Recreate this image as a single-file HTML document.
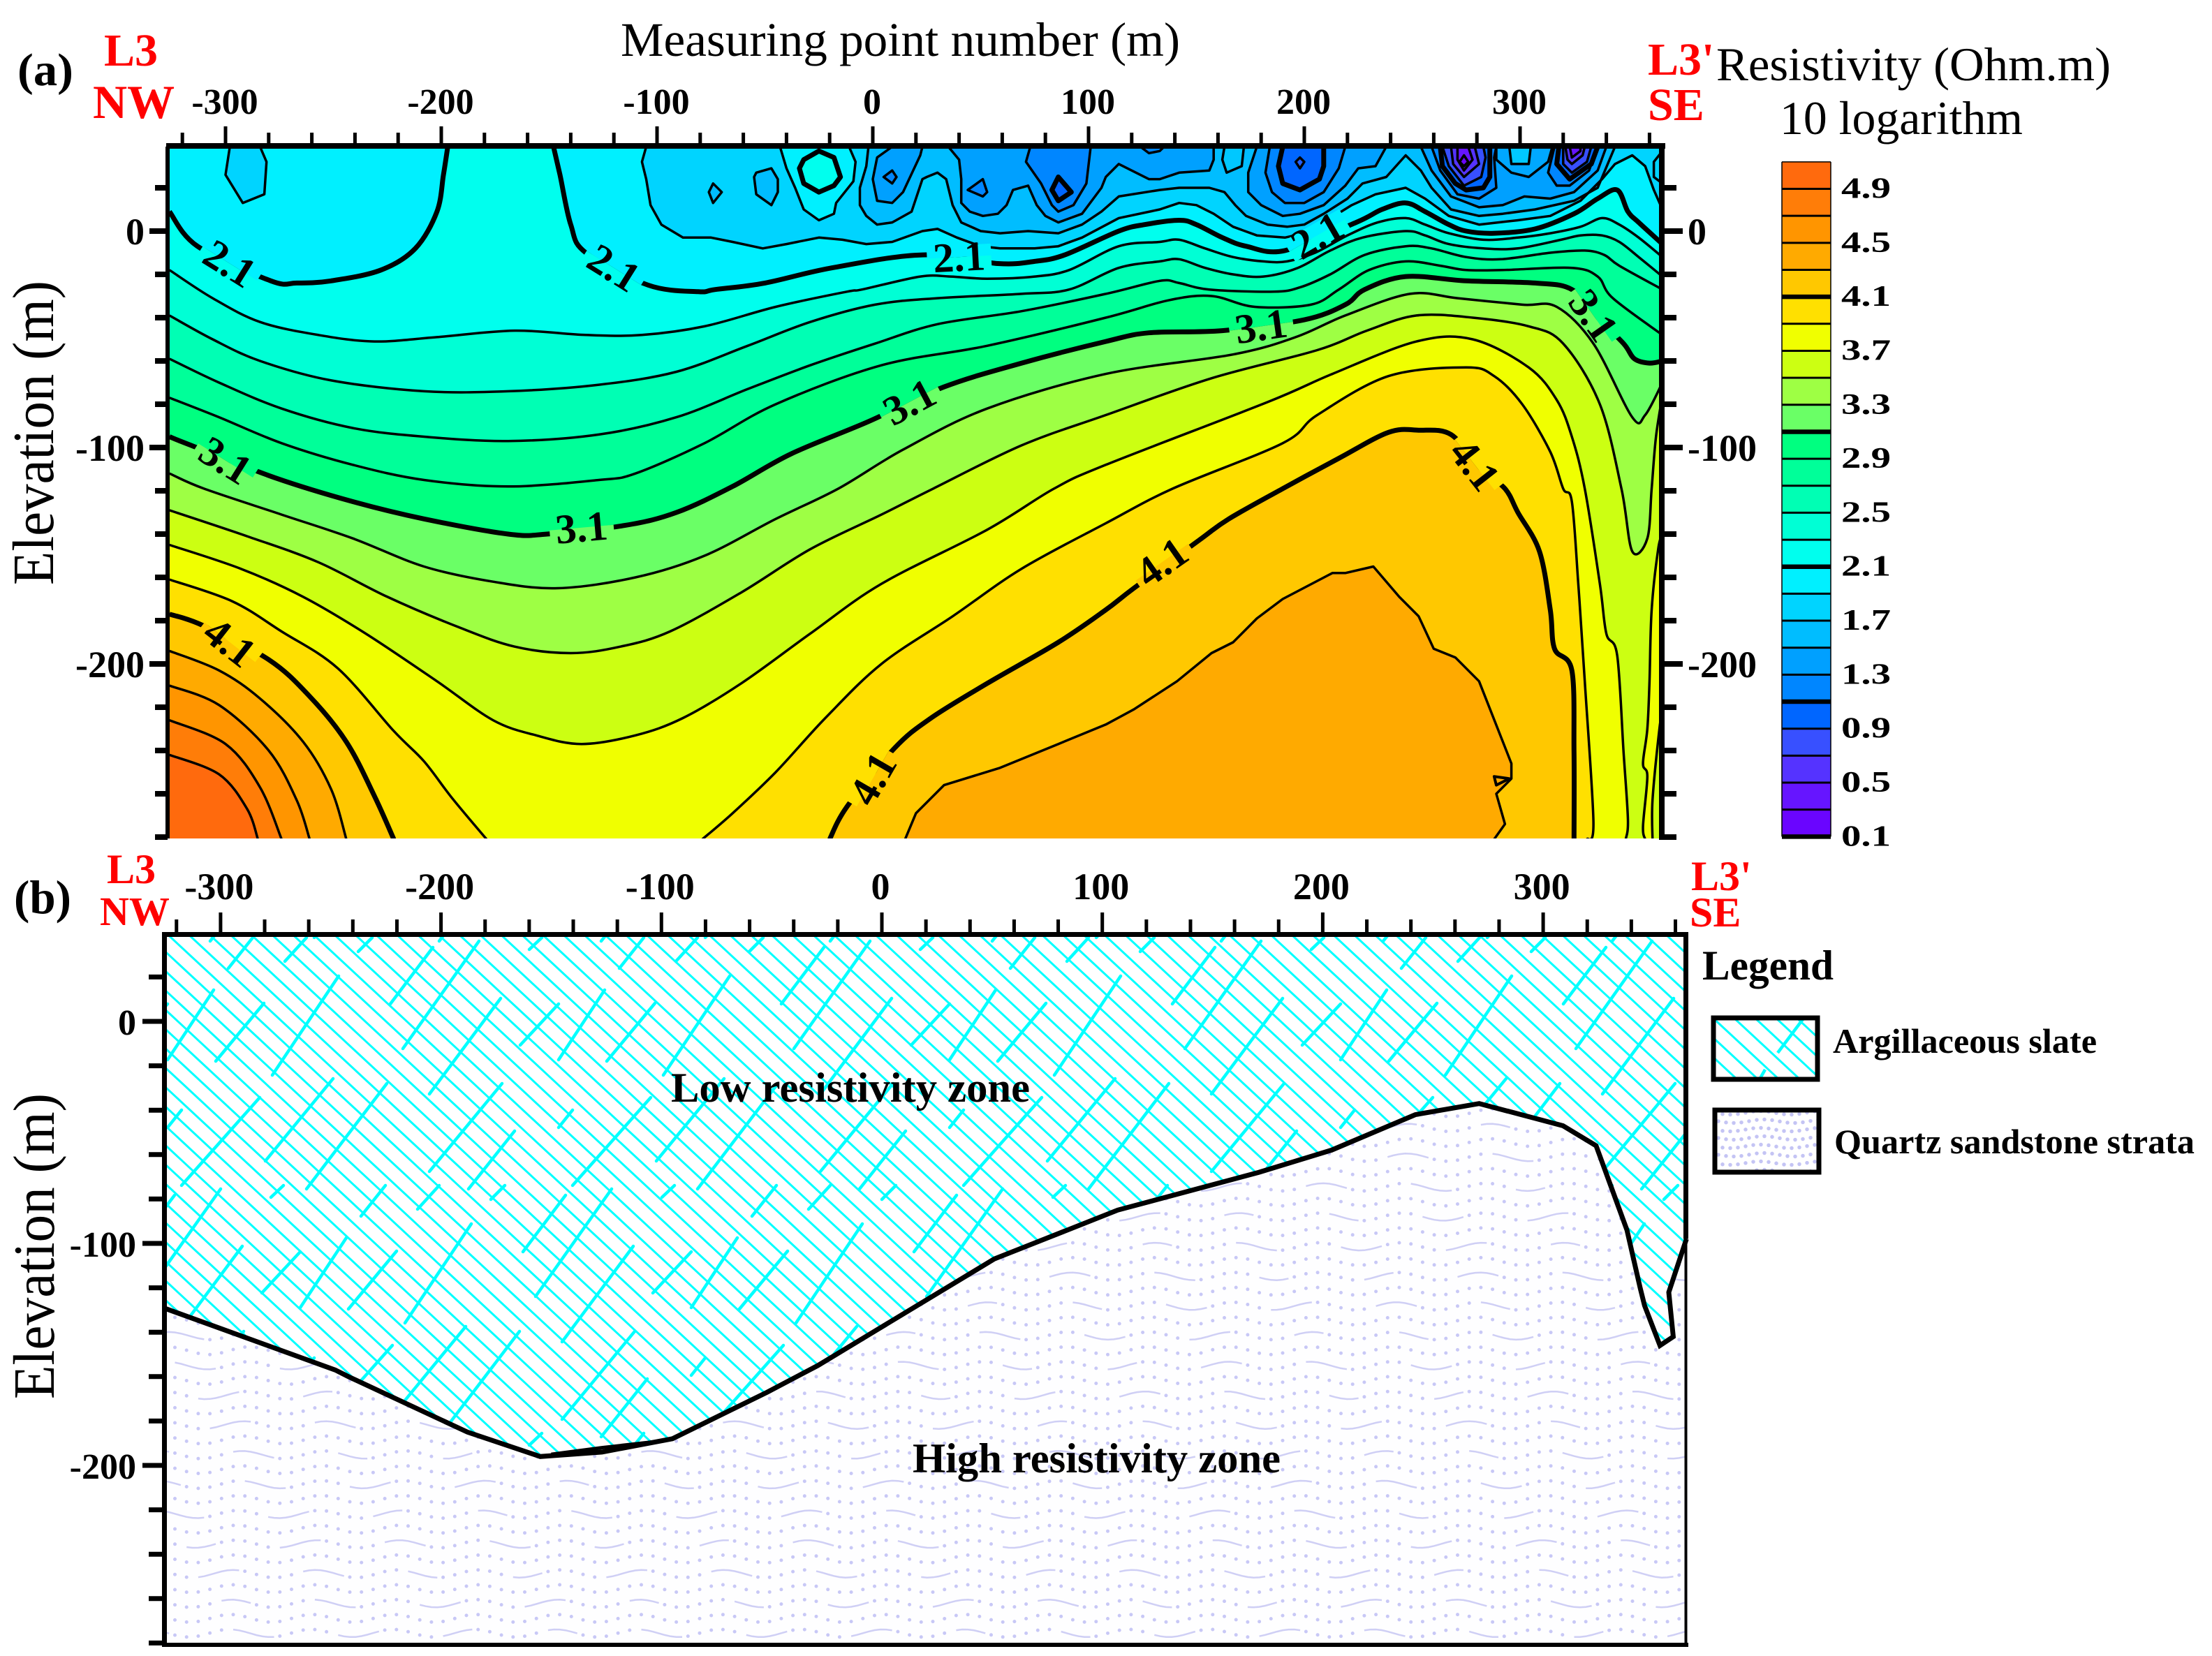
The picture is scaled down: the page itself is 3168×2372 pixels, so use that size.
<!DOCTYPE html>
<html lang="en">
<head>
<meta charset="utf-8">
<title>Resistivity section and geological interpretation</title>
<style>
html,body{margin:0;padding:0;background:#fff;overflow:hidden;}
svg{display:block;}
text{font-family:"Liberation Serif",serif;}
.b{font-weight:bold;}
.red{fill:#ff0000;font-weight:bold;}
</style>
</head>
<body>
<svg id="fig" xmlns="http://www.w3.org/2000/svg" width="3168" height="2372" viewBox="0 0 3168 2372">
  <defs>
    <clipPath id="clipA"><rect x="242" y="210" width="2139" height="991"/></clipPath>
    <clipPath id="clipUpper"><path id="clipUpperPath" d=""/></clipPath>
    <clipPath id="clipLower"><path id="clipLowerPath" d=""/></clipPath>
    <clipPath id="clipSw1"><rect x="2455" y="1459" width="147" height="86"/></clipPath>
    <clipPath id="clipSw2"><rect x="2457" y="1591" width="147" height="87"/></clipPath>
  </defs>
  <rect x="0" y="0" width="3168" height="2372" fill="#ffffff"/>

  <g id="plotA" clip-path="url(#clipA)"></g>
  <g id="axesA"></g>
  <g id="colorbar"></g>
  <g id="plotB"></g>
  <g id="axesB"></g>

  <text x="25" y="122" font-size="66" class="b" textLength="80" lengthAdjust="spacingAndGlyphs">(a)</text>
  <text x="889" y="80" font-size="69" textLength="801" lengthAdjust="spacingAndGlyphs">Measuring point number (m)</text>
  <text x="149" y="94" font-size="66" class="red">L3</text>
  <text x="133" y="169" font-size="68" class="red">NW</text>
  <text x="2360" y="107" font-size="66" class="red">L3'</text>
  <text x="2360" y="172" font-size="66" class="red">SE</text>
  <text x="2458" y="115" font-size="68" textLength="565" lengthAdjust="spacingAndGlyphs">Resistivity (Ohm.m)</text>
  <text x="2549" y="192" font-size="68" textLength="348" lengthAdjust="spacingAndGlyphs">10 logarithm</text>
  <text transform="translate(76,838) rotate(-90)" font-size="84" textLength="436" lengthAdjust="spacingAndGlyphs">Elevation (m)</text>

  <text x="20" y="1308" font-size="68" class="b" textLength="82" lengthAdjust="spacingAndGlyphs">(b)</text>
  <text x="153" y="1265" font-size="60" class="red">L3</text>
  <text x="143" y="1325" font-size="58" class="red">NW</text>
  <text x="2422" y="1275" font-size="60" class="red">L3'</text>
  <text x="2420" y="1327" font-size="60" class="red">SE</text>
  <text transform="translate(77,2004) rotate(-90)" font-size="84" textLength="438" lengthAdjust="spacingAndGlyphs">Elevation (m)</text>
  <text x="961" y="1578" font-size="60" class="b" textLength="514" lengthAdjust="spacingAndGlyphs">Low resistivity zone</text>
  <text x="1307" y="2109" font-size="60" class="b" textLength="527" lengthAdjust="spacingAndGlyphs">High resistivity zone</text>

  <g>
    <text x="2438" y="1403" font-size="60" class="b" textLength="188" lengthAdjust="spacingAndGlyphs">Legend</text>
    <g id="swatch1" clip-path="url(#clipSw1)"></g>
    <rect x="2454" y="1458" width="149" height="88" fill="none" stroke="#000" stroke-width="7"/>
    <text x="2625" y="1508" font-size="50" class="b" textLength="378" lengthAdjust="spacingAndGlyphs">Argillaceous slate</text>
    <g id="swatch2" clip-path="url(#clipSw2)"></g>
    <rect x="2456" y="1590" width="149" height="89" fill="none" stroke="#000" stroke-width="7"/>
    <text x="2627" y="1652" font-size="50" class="b" textLength="516" lengthAdjust="spacingAndGlyphs">Quartz sandstone strata</text>
  </g>
</svg>

<script>
// ---- tick values ----
const xTickLabels = [-300,-200,-100,0,100,200,300];
const yTickLabels = [0,-100,-200];
const colorbarLabels = [4.9,4.5,4.1,3.7,3.3,2.9,2.5,2.1,1.7,1.3,0.9,0.5,0.1];
const colorbarLevels = [4.9,4.7,4.5,4.3,4.1,3.9,3.7,3.5,3.3,3.1,2.9,2.7,2.5,2.3,2.1,1.9,1.7,1.5,1.3,1.1,0.9,0.7,0.5,0.3,0.1];
const colorbarColors = ['#ff6a0d','#ff7d08','#ff9500','#ffaa00','#ffc800','#ffe000','#f0ff00','#ccff12','#9eff44','#6aff66','#00ff80','#00ff99','#00ffb4','#00ffd5','#00ffee','#00f0ff','#00d4ff','#00bdff','#00a0ff','#0086ff','#0066ff','#3850ff','#5533ff','#6615ff','#6a05ff'];

// ---- contour lines: [distance m, elevation m] ----
const c21Left = [[-326,9],[-313,-7],[-279,-23],[-267,-24],[-251,-23],[-228,-18],[-212,-8],[-202,9],[-199,26],[-197,39]];
const c21Mid = [[-148,39],[-145,26],[-140,3],[-133,-10],[-104,-25],[-81,-28],[-73,-27],[-50,-24],[-19,-17],[23,-11],[58,-15],[75,-14],[89,-11],[114,0],[126,3],[142,5],[150,3],[162,-3],[173,-7],[191,-9],[224,4],[236,10],[247,13],[256,9],[267,3],[275,0],[288,-1],[307,1],[325,8],[336,15],[345,19],[350,9],[355,4],[366,-6]];
const c23 = [[-326,-18],[-306,-31],[-284,-42],[-257,-48],[-231,-51],[-202,-49],[-166,-46],[-133,-48],[-107,-48],[-78,-44],[-45,-35],[-12,-28],[-5,-27],[22,-21],[36,-21],[53,-22],[75,-21],[91,-18],[114,-7],[133,-5],[142,-4],[154,-8],[167,-12],[181,-14],[192,-14],[205,-10],[220,-2],[234,4],[247,6],[256,3],[267,-1],[283,-4],[299,-3],[314,-1],[328,2],[338,6],[346,3],[355,-3],[366,-12]];
const c25 = [[-326,-39],[-306,-50],[-284,-60],[-251,-69],[-208,-74],[-169,-74],[-127,-71],[-91,-65],[-58,-53],[-29,-42],[1,-34],[30,-31],[69,-29],[91,-27],[114,-17],[133,-14],[142,-13],[154,-17],[167,-20],[181,-21],[197,-17],[212,-9],[227,-3],[247,0],[256,-2],[267,-6],[283,-8],[299,-8],[319,-4],[328,-2],[338,-2],[346,-5],[355,-12],[366,-21]];
const c27 = [[-326,-59],[-303,-70],[-274,-82],[-241,-91],[-208,-95],[-169,-97],[-127,-94],[-91,-86],[-58,-73],[-29,-62],[1,-52],[30,-43],[69,-37],[108,-29],[133,-23],[142,-24],[156,-27],[186,-28],[198,-26],[212,-20],[228,-11],[247,-7],[259,-8],[275,-12],[291,-13],[314,-10],[330,-9],[339,-11],[346,-16],[366,-27]];
const c29 = [[-326,-77],[-303,-86],[-274,-98],[-241,-108],[-208,-115],[-169,-118],[-127,-115],[-110,-112],[-78,-98],[-45,-80],[4,-62],[53,-53],[108,-40],[137,-32],[157,-30],[177,-35],[203,-34],[216,-27],[230,-18],[247,-14],[263,-16],[275,-18],[292,-18],[324,-17],[336,-21],[343,-31],[366,-48]];
const c31 = [[-326,-95],[-316,-99],[-277,-114],[-241,-125],[-208,-133],[-169,-140],[-151,-140],[-115,-136],[-91,-130],[-65,-118],[-38,-103],[-2,-88],[33,-72],[69,-61],[108,-51],[128,-47],[162,-46],[200,-41],[219,-34],[228,-27],[247,-21],[275,-23],[307,-24],[324,-27],[336,-40],[348,-52],[353,-59],[360,-61],[366,-60]];
const c33 = [[-326,-112],[-310,-119],[-274,-131],[-241,-142],[-208,-155],[-176,-162],[-146,-165],[-110,-160],[-78,-150],[-45,-133],[-16,-119],[14,-101],[53,-82],[108,-66],[167,-57],[196,-49],[219,-39],[249,-29],[271,-31],[301,-34],[317,-35],[334,-52],[352,-86],[358,-85],[366,-70]];
const c35 = [[-326,-129],[-290,-141],[-257,-153],[-225,-169],[-192,-183],[-166,-192],[-140,-195],[-117,-192],[-94,-185],[-61,-167],[-29,-147],[4,-131],[28,-119],[69,-99],[108,-85],[157,-68],[206,-55],[229,-46],[252,-39],[278,-40],[304,-44],[320,-52],[337,-80],[347,-119],[352,-148],[359,-142],[361,-119],[363,-95],[366,-76]];
const c37 = [[-326,-145],[-293,-156],[-264,-169],[-235,-186],[-202,-208],[-176,-226],[-156,-233],[-135,-237],[-110,-233],[-88,-225],[-61,-209],[-29,-186],[4,-163],[53,-138],[84,-119],[108,-108],[183,-79],[213,-66],[252,-51],[278,-50],[304,-63],[317,-78],[324,-95],[330,-119],[337,-163],[340,-186],[345,-196],[348,-241],[350,-272],[349,-281]];
const c37Right = [[366,-140],[364,-147],[361,-175],[360,-208],[359,-230],[357,-246],[359,-252],[357,-275],[358,-281]];
const c37Edge = [[366,-222],[364.6,-230],[361.4,-263],[361.4,-281]];
const c39Left = [[-326,-161],[-297,-171],[-274,-185],[-248,-202],[-222,-231],[-208,-245],[-195,-262],[-179,-281]];
const c39Right = [[-79,-281],[-65,-269],[-45,-250],[-22,-225],[4,-200],[37,-178],[69,-156],[108,-135],[139,-119],[190,-98],[206,-85],[239,-67],[275,-63],[288,-67],[301,-80],[314,-102],[320,-119],[324,-125],[327,-163],[330,-208],[334,-273],[331,-281]];
const c41Left = [[-326,-177],[-311,-182],[-280,-198],[-261,-215],[-244,-236],[-231,-261],[-222,-281]];
const c41Right = [[-20,-281],[-12,-266],[10,-239],[27,-225],[53,-209],[86,-190],[108,-175],[121,-165],[151,-143],[165,-133],[190,-119],[216,-105],[239,-93],[253,-92],[268,-94],[281,-109],[293,-119],[299,-130],[309,-148],[314,-175],[316,-193],[324,-203],[325,-241],[325,-281]];
const c43Left = [[-326,-194],[-303,-203],[-284,-216],[-264,-236],[-251,-258],[-244,-281]];
const c43Right = [[15,-281],[20,-269],[33,-256],[59,-248],[86,-237],[108,-228],[121,-221],[141,-208],[157,-195],[167,-190],[178,-179],[190,-170],[213,-158],[219,-158],[232,-155],[244,-169],[253,-178],[260,-193],[270,-197],[281,-208],[296,-246],[296,-253],[289,-260],[293,-274],[288,-281]];
const c43Small = [[288,-252],[295,-253],[289,-256]];
const c45 = [[-326,-210],[-303,-219],[-280,-240],[-267,-263],[-261,-281]];
const c47 = [[-326,-226],[-300,-237],[-284,-257],[-274,-281]];
const c49 = [[-326,-242],[-303,-251],[-290,-267],[-285,-281]];

// ---- near-surface low-resistivity contours ----
const c19Blob = [[-298,39],[-300,26],[-292,13],[-282,17],[-281,32],[-284,39]];
const c19Main = [[-105,39],[-107,32],[-105,24],[-103,12],[-98,3],[-88,-3],[-75,-3],[-65,-5],[-51,-8],[-40,-6],[-25,-3],[-14,-4],[-3,-6],[9,-5],[23,0],[30,1],[39,-3],[50,-7],[59,-8],[75,-8],[86,-7],[97,-3],[114,6],[133,10],[142,13],[150,12],[158,8],[167,2],[178,-2],[191,-3],[200,-1],[209,4],[222,12],[233,17],[247,20],[256,15],[267,7],[281,3],[299,5],[314,7],[328,14],[338,24],[344,31],[352,35],[358,30],[362,19],[366,10]];
const c19Corner = [[366,37],[362,32],[362,25],[366,22]];
const c19Tongue = [[-43,39],[-40,29],[-36,20],[-32,10],[-25,5],[-18,8],[-17,13],[-9,23],[-8,32],[-11,39]];
const c21Ring = [[-25,37],[-18,34],[-15,25],[-18,21],[-25,18],[-32,22],[-34,29],[-32,33]];
const c17Diamond = [[-74,22],[-70,18],[-74,13],[-76,18]];
const c17Blob = [[-54,27],[-47,29],[-44,24],[-44,18],[-47,12],[-54,17],[-55,25]];
const c17Main = [[-2,39],[-3,30],[-6,20],[-6,12],[-3,7],[2,3],[9,4],[18,9],[23,24],[25,25],[30,27],[34,24],[37,12],[41,4],[50,0],[59,-1],[72,0],[86,-1],[97,3],[106,9],[114,16],[133,19],[142,20],[156,20],[163,18],[168,12],[173,7],[183,3],[192,2],[200,3],[209,8],[220,15],[227,22],[238,25],[247,35],[254,28],[259,20],[268,10],[281,7],[292,8],[307,10],[325,14],[336,20],[344,39]];
const c15Tongue = [[9,39],[2,34],[0,24],[2,14],[9,13],[14,18],[22,35],[23,39]];
const c15Main = [[35,39],[40,33],[41,24],[41,13],[45,9],[51,7],[58,8],[62,12],[65,19],[72,21],[76,12],[80,7],[86,4],[97,8],[106,20],[108,25],[114,31],[128,24],[133,24],[142,27],[156,28],[158,33],[158,39]];
const c15Basin = [[178,39],[174,27],[174,18],[180,12],[190,7],[198,8],[209,12],[219,21],[225,29],[233,30],[238,39]];
const c15East = [[254,39],[259,28],[268,16],[281,11],[292,12],[302,16],[314,15],[325,18],[336,28],[340,39]];
const c17Lens = [[163,39],[162,33],[164,27],[171,30],[172,39]];
const c15Rim = [[289,39],[289,33],[296,27],[304,25],[313,32],[315,39]];
const c17Inner = [[295,39],[296,31],[304,31],[305,39]];
const c13Tiny = [[9,28],[11,25],[9,22],[5,25]];
const c13Tri = [[44,19],[51,24],[53,18],[51,16]];
const c13Corner = [[124,39],[128,36],[133,37],[135,39]];
const c13Tongue = [[73,39],[71,32],[78,22],[83,12],[86,9],[93,12],[99,22],[101,39]];
const c13Basin = [[184,39],[182,27],[185,18],[191,13],[200,13],[209,18],[216,29],[219,39]];
const c13DeepA = [[259,39],[263,28],[271,17],[281,15],[289,20],[288,34],[289,39]];
const c13DeepB = [[316,39],[313,27],[317,21],[323,21],[332,28],[336,39]];
const c11Diamond = [[86,25],[92,18],[86,14],[83,19]];
const c11Basin = [[190,39],[188,30],[190,22],[198,19],[207,24],[209,30],[209,39]];
const c11DeepA = [[263,39],[264,30],[270,22],[275,19],[283,20],[286,25],[286,39]];
const c11DeepB = [[318,39],[317,31],[323,24],[333,31],[336,39]];
const c09Basin = [[198,34],[200,32],[198,29],[196,32]];
const c09DeepA = [[264,39],[267,30],[274,21],[282,25],[284,34],[283,39]];
const c09DeepB = [[320,39],[320,31],[324,27],[331,32],[333,39]];
const c07DeepA = [[268,39],[269,31],[274,25],[281,31],[279,39]];
const c07DeepB = [[321,39],[322,33],[324,31],[329,35],[330,39]];
const c05DeepA = [[271,39],[271,33],[274,28],[278,33],[276,39]];
const c05DeepB = [[323,39],[324,34],[328,37],[328,39]];
const c03DeepA = [[274,35],[276,32],[274,30],[272,32]];

// ---- labelled contours: text, distance, elevation ----
const contourLabelText = ['2.1','2.1','2.1','2.1','3.1','3.1','3.1','3.1','3.1','4.1','4.1','4.1','4.1'];
const contourLabelX = [-298,-120,40,206,180,334,17,-300,-135,279,134,-298,0];
const contourLabelY = [-15,-17,-12,-2,-44,-39,-79,-106,-137,-108,-153,-190,-253];
const contourLabelAngle = [32,32,-3,-30,-8,55,-28,32,-5,52,-35,38,-60];

// ---- panel (b) interpreted boundary: [distance m, elevation m] ----
const boundaryLine = [[-326,-129],[-248,-157],[-242,-160],[-188,-185],[-155,-196],[-127,-194],[-95,-188],[-52,-167],[-29,-155],[51,-107],[107,-85],[171,-68],[204,-58],[242,-42],[271,-37],[309,-47],[324,-56],[331,-75],[338,-94],[344,-120],[346,-128],[353,-146],[359,-142],[357,-122],[365,-98]];
const boundaryWedge = [[-150,-195],[-127,-192],[-100,-189]];

// ---- axes ----
const xA = u => 1250 + 3.09 * u;
const yA = e => 331 - 3.1 * e;
const xB = u => 1263 + 3.157 * u;
const yB = e => 1463 - 3.18 * e;
const yC = v => 270.5 + (4.9 - v) * 193.3;
const NS = 'http://www.w3.org/2000/svg';

function make(tag, parent, attrs) {
  const el = document.createElementNS(NS, tag);
  for (const k in attrs) el.setAttribute(k, attrs[k]);
  parent.appendChild(el);
  return el;
}
function straight(pts, fx, fy, cmd) {
  return pts.map((p, i) => (i === 0 ? cmd : 'L') + fx(p[0]).toFixed(1) + ' ' + fy(p[1]).toFixed(1)).join(' ');
}
function smooth(pts, fx, fy, cmd) {
  const q = pts.map(p => [fx(p[0]), fy(p[1])]);
  let d = cmd + q[0][0].toFixed(1) + ' ' + q[0][1].toFixed(1);
  for (let i = 0; i < q.length - 1; i++) {
    const p0 = q[i - 1] || q[i], p1 = q[i], p2 = q[i + 1], p3 = q[i + 2] || p2;
    d += ' C' + (p1[0] + (p2[0] - p0[0]) / 6).toFixed(1) + ' ' + (p1[1] + (p2[1] - p0[1]) / 6).toFixed(1) +
         ' ' + (p2[0] - (p3[0] - p1[0]) / 6).toFixed(1) + ' ' + (p2[1] - (p3[1] - p1[1]) / 6).toFixed(1) +
         ' ' + p2[0].toFixed(1) + ' ' + p2[1].toFixed(1);
  }
  return d;
}

// ---- panel (a) ----
const plotA = document.getElementById('plotA');
const baseRect = make('rect', plotA, {x: 240, y: 205, width: 2145, height: 1000, fill: '#00f0ff'});



function bandFill(d, color) {
  const el = make('path', plotA, {d: d, fill: color});
  
  
}
const BR = xA(370) + ' ' + yA(-285), BL = xA(-330) + ' ' + yA(-285), TR = xA(370) + ' ' + yA(45);
const sm = (p, c) => smooth(p, xA, yA, c);
const st = (p, c) => straight(p, xA, yA, c);
const belowFull = p => sm(p, 'M') + ' L' + BR + ' L' + BL + ' Z';
const belowLeft = p => sm(p, 'M') + ' L' + BL + ' Z';
const topClosed = p => {
  const a = p[0], b = p[p.length - 1];
  return st(p, 'M') + ' L' + xA(b[0]) + ' ' + yA(45) + ' L' + xA(a[0]) + ' ' + yA(45) + ' Z';
};

bandFill(sm(c21Left, 'M') + ' L' + xA(-197) + ' ' + yA(45) + ' L' + xA(-148) + ' ' + yA(45) + ' ' + sm(c21Mid, 'L') + ' L' + BR + ' L' + BL + ' Z', colorbarColors[14]);
bandFill(belowFull(c23), colorbarColors[13]);
bandFill(belowFull(c25), colorbarColors[12]);
bandFill(belowFull(c27), colorbarColors[11]);
bandFill(belowFull(c29), colorbarColors[10]);
bandFill(belowFull(c31), colorbarColors[9]);
bandFill(belowFull(c33), colorbarColors[8]);
bandFill(belowFull(c35), colorbarColors[7]);
bandFill(belowLeft(c37), colorbarColors[6]);
bandFill(sm(c37Right, 'M') + ' L' + BR + ' Z', colorbarColors[6]);
bandFill(sm(c37Edge, 'M') + ' L' + BR + ' Z', colorbarColors[7]);
bandFill(belowLeft(c39Left), colorbarColors[5]);
bandFill(sm(c39Right, 'M') + ' Z', colorbarColors[5]);
bandFill(belowLeft(c41Left), colorbarColors[4]);
bandFill(sm(c41Right, 'M') + ' Z', colorbarColors[4]);
bandFill(belowLeft(c43Left), colorbarColors[3]);
bandFill(st(c43Right, 'M') + ' Z', colorbarColors[3]);
bandFill(belowLeft(c45), colorbarColors[2]);
bandFill(belowLeft(c47), colorbarColors[1]);
bandFill(belowLeft(c49), colorbarColors[0]);

bandFill(topClosed(c19Blob), colorbarColors[16]);
bandFill(st(c19Main, 'M') + ' L' + TR + ' L' + xA(-105) + ' ' + yA(45) + ' Z', colorbarColors[16]);
bandFill(topClosed(c19Tongue), colorbarColors[15]);
bandFill(st(c21Ring, 'M') + ' Z', colorbarColors[14]);
bandFill(st(c17Diamond, 'M') + ' Z', colorbarColors[17]);
bandFill(st(c17Blob, 'M') + ' Z', colorbarColors[17]);
bandFill(topClosed(c17Main), colorbarColors[17]);
bandFill(topClosed(c15Tongue), colorbarColors[18]);
bandFill(topClosed(c15Main), colorbarColors[18]);
bandFill(topClosed(c15Basin), colorbarColors[18]);
bandFill(topClosed(c15East), colorbarColors[18]);
bandFill(topClosed(c17Lens), '#00c8ff');
bandFill(topClosed(c15Rim), '#00a8ff');
bandFill(topClosed(c17Inner), '#00c8ff');
bandFill(st(c13Tiny, 'M') + ' Z', colorbarColors[19]);
bandFill(st(c13Tri, 'M') + ' Z', colorbarColors[19]);
bandFill(topClosed(c13Corner), colorbarColors[19]);
bandFill(topClosed(c13Tongue), colorbarColors[19]);
bandFill(topClosed(c13Basin), colorbarColors[19]);
bandFill(topClosed(c13DeepA), colorbarColors[19]);
bandFill(topClosed(c13DeepB), colorbarColors[19]);
bandFill(st(c11Diamond, 'M') + ' Z', colorbarColors[20]);
bandFill(topClosed(c11Basin), colorbarColors[20]);
bandFill(topClosed(c11DeepA), colorbarColors[20]);
bandFill(topClosed(c11DeepB), colorbarColors[20]);
bandFill(st(c09Basin, 'M') + ' Z', '#2460ff');
bandFill(topClosed(c09DeepA), colorbarColors[21]);
bandFill(topClosed(c09DeepB), colorbarColors[21]);
bandFill(topClosed(c07DeepA), colorbarColors[22]);
bandFill(topClosed(c07DeepB), colorbarColors[22]);
bandFill(topClosed(c05DeepA), colorbarColors[23]);
bandFill(topClosed(c05DeepB), colorbarColors[23]);
bandFill(st(c03DeepA, 'M') + ' Z', colorbarColors[24]);

function contourLine(d, width) {
  const el = make('path', plotA, {d: d, fill: 'none', stroke: '#000', 'stroke-width': width, 'stroke-linejoin': 'round'});
  
  
}
[c23,c25,c27,c29,c33,c35,c37,c37Right,c37Edge,c39Left,c39Right,c43Left,c45,c47,c49].forEach(p => contourLine(sm(p, 'M'), 3.5));
[c21Left,c21Mid,c31,c41Left,c41Right].forEach(p => contourLine(sm(p, 'M'), 7));
contourLine(st(c43Right, 'M'), 3.5);
contourLine(st(c43Small, 'M') + ' Z', 4);
[c19Blob,c19Main,c19Corner,c19Tongue,c17Main,c15Tongue,c15Main,c15Basin,c15East,c17Lens,c15Rim,c17Inner,c13Corner,c13Tongue,c13Basin,c13DeepA,c13DeepB,c09DeepA,c09DeepB,c07DeepA,c07DeepB,c05DeepA,c05DeepB].forEach(p => contourLine(st(p, 'M'), 3.5));
[c17Diamond,c17Blob,c13Tiny,c13Tri,c09Basin,c03DeepA].forEach(p => contourLine(st(p, 'M') + ' Z', 3.5));
[c11DeepA,c11DeepB,c11Basin].forEach(p => contourLine(st(p, 'M'), 7));
[c21Ring,c11Diamond].forEach(p => contourLine(st(p, 'M') + ' Z', 7));

contourLabelText.forEach((t, i) => {
  const px = xA(contourLabelX[i]), py = yA(contourLabelY[i]);
  const rot = 'rotate(' + contourLabelAngle[i] + ' ' + px + ' ' + py + ')';
  const upper = t === '2.1' ? colorbarColors[15] : t === '3.1' ? colorbarColors[10] : colorbarColors[5];
  const lower = t === '2.1' ? colorbarColors[14] : t === '3.1' ? colorbarColors[9] : colorbarColors[4];
  make('rect', plotA, {x: px - 46, y: py - 17, width: 92, height: 17, fill: upper, transform: rot});
  make('rect', plotA, {x: px - 46, y: py, width: 92, height: 17, fill: lower, transform: rot});
  const el = make('text', plotA, {
    x: px, y: py + 20, 'font-size': 60, 'font-weight': 'bold', 'text-anchor': 'middle',
    transform: rot, fill: '#000'
  });
  
  
  el.textContent = t;
});

// panel (a) frame and ticks
const axesA = document.getElementById('axesA');
function addPath(parent, d, width, name) {
  const el = make('path', parent, {d: d, fill: 'none', stroke: '#000', 'stroke-width': width});
  
  
}
addPath(axesA, 'M240 1201V210', 6, 'left-axis-line-a');
addPath(axesA, 'M238 209H2385', 8, 'top-axis-line-a');
addPath(axesA, 'M2380 205V1203', 8, 'right-axis-line-a');
let dA = '';
for (let u = -320; u <= 360; u += 20) dA += 'M' + xA(u) + ' 206V' + (u % 100 === 0 ? 181 : 190);
addPath(axesA, dA, 5, 'top-ticks-a');
let dL = '', dR = '';
for (let e = 20; e >= -280; e -= 20) {
  const major = e % 100 === 0;
  dL += 'M240 ' + yA(e) + 'H' + (major ? 214 : 222);
  dR += 'M2382 ' + yA(e) + 'H' + (major ? 2410 : 2401);
}
addPath(axesA, dL, 8, 'left-ticks-a');
addPath(axesA, dR, 8, 'right-ticks-a');
function tickText(parent, x, y, size, anchor, value, name) {
  const el = make('text', parent, {x: x, y: y, 'font-size': size, 'font-weight': 'bold', 'text-anchor': anchor});
  
  
  el.textContent = value;
  return el;
}
xTickLabels.forEach(v => tickText(axesA, xA(v) - 1, 163, 52, 'middle', v, 'x-tick-label-a'));
yTickLabels.forEach(v => {
  tickText(axesA, 207, yA(v) + 19, 54, 'end', v, 'y-tick-label-left-a');
  tickText(axesA, 2417, yA(v) + 19, 54, 'start', v, 'y-tick-label-right-a');
});

// colorbar
const cb = document.getElementById('colorbar');
colorbarLevels.forEach((lv, i) => {
  const top = i === 0 ? yC(lv + 0.2) : yC(colorbarLevels[i - 1]);
  const el = make('rect', cb, {x: 2552, y: top, width: 70, height: yC(lv) - top, fill: colorbarColors[i]});
  
  
});
addPath(cb, 'M2552 ' + yC(5.1) + 'V' + yC(0.1) + 'M2622 ' + yC(5.1) + 'V' + yC(0.1) + 'M2552 ' + yC(5.1) + 'H2622', 1.5, 'colorbar-outline');
colorbarLevels.forEach(lv => {
  const thick = Math.abs(lv * 10 % 10 - 1) < 0.01;
  addPath(cb, 'M2552 ' + yC(lv) + 'H2622', thick ? 6.5 : 3, 'colorbar-level-line');
});
colorbarLabels.forEach(v => {
  const el = tickText(cb, 2637, yC(v) + 13, 42, 'start', v.toFixed(1), 'colorbar-label');
  el.setAttribute('textLength', 71);
  el.setAttribute('lengthAdjust', 'spacingAndGlyphs');
});

// ---- panel (b) ----
const plotB = document.getElementById('plotB');
const bLeft = xB(-326), bRight = 2414, bTop = 1338, bBottom = 2355;
const boundaryD = straight(boundaryLine, xB, yB, 'M');
document.getElementById('clipUpperPath').setAttribute('d', boundaryD + ' L' + bRight + ' ' + yB(-98) + ' L' + bRight + ' ' + bTop + ' L' + bLeft + ' ' + bTop + ' Z');
document.getElementById('clipLowerPath').setAttribute('d', boundaryD + ' L' + bRight + ' ' + yB(-98) + ' L' + bRight + ' ' + bBottom + ' L' + bLeft + ' ' + bBottom + ' Z');

const lowerG = make('g', plotB, {'clip-path': 'url(#clipLower)'});


make('rect', lowerG, {x: bLeft, y: bTop, width: bRight - bLeft, height: bBottom - bTop, fill: '#fefeff'});
let dots = '', waves = '';
for (let r = 0; r < 39; r++) {
  const rowY = 1530 + r * 21.3, waveRow = r % 2 === 0, shift = 53 + r * 1.5;
  const wave = x => rowY + 5.5 * Math.sin(2 * Math.PI * (x + shift) / 117);
  let inWave = false;
  for (let x = bLeft; x < bRight; x += 16.7) {
    const isWave = waveRow && ((x + r * 61) % 147 < 60);
    if (isWave) {
      if (!inWave) { waves += 'M' + x.toFixed(1) + ' ' + wave(x).toFixed(1); inWave = true; }
      else waves += 'L' + x.toFixed(1) + ' ' + wave(x).toFixed(1);
      waves += 'L' + (x + 8.35).toFixed(1) + ' ' + wave(x + 8.35).toFixed(1);
    } else {
      inWave = false;
      dots += 'M' + x.toFixed(1) + ' ' + wave(x).toFixed(1) + 'h0';
    }
  }
}
make('path', lowerG, {d: dots, stroke: '#c8c8f6', 'stroke-width': 5, 'stroke-linecap': 'round', fill: 'none'});
make('path', lowerG, {d: waves, stroke: '#cfcff5', 'stroke-width': 2.5, fill: 'none'});

const upperG = make('g', plotB, {'clip-path': 'url(#clipUpper)'});


let hatch = '';
const slope = 0.93;
for (let c = 925 - 29.8 * 47; c < 2420; c += 29.8) {
  const x1 = Math.max(c, 232), y1 = bTop + (x1 - c) * slope;
  const y2 = Math.min(2100, bTop + (2420 - c) * slope), x2 = c + (y2 - bTop) / slope;
  hatch += 'M' + x1.toFixed(1) + ' ' + y1.toFixed(1) + 'L' + x2.toFixed(1) + ' ' + y2.toFixed(1);
}
make('path', upperG, {d: hatch, stroke: '#00ffff', 'stroke-width': 3, fill: 'none'});
const strokeDX = [35,31,20,61,109,18,66,69,95,102,55,112,97,115,104,66,20];
const strokeDY = [-44,-34,-20,-81,-154,-17,-100,-83,-142,-137,-59,-126,-118,-151,-126,-83,-25];
const strokeX = [87,168,273,319,337,518,0,69,150,375,505,20,140,199,375,431,0];
const strokeY = [44,34,20,95,159,17,175,177,197,224,154,355,320,360,335,360,272];
let cross = '';
for (let j = -1; j < 3; j++) for (let i = -1; i < 6; i++) {
  const ox = 240 + i * 560 + (j % 2 ? 190 : 0), oy = 1343 + j * 355;
  strokeDX.forEach((dx, k) => {
    const sx = ox + strokeX[k], sy = oy + strokeY[k];
    if (sx < 120 || sx + dx > 2500 || sy > 2130) return;
    cross += 'M' + sx + ' ' + sy + 'l' + dx + ' ' + strokeDY[k];
  });
}
make('path', upperG, {d: cross, stroke: '#00ffff', 'stroke-width': 4.5, 'stroke-linecap': 'round', fill: 'none'});

addPath(plotB, boundaryD, 7, 'slate-sandstone-boundary');
addPath(plotB, straight(boundaryWedge, xB, yB, 'M'), 5, 'slate-sandstone-boundary-wedge');

const axesB = document.getElementById('axesB');
addPath(axesB, 'M235.5 1335V2359', 7, 'left-axis-line-b');
addPath(axesB, 'M232 1338.5H2418', 7, 'top-axis-line-b');
addPath(axesB, 'M2414.5 1335V' + yB(-98), 7, 'right-axis-line-b-upper');
addPath(axesB, 'M232 2356H2418', 6, 'bottom-axis-line-b');
addPath(axesB, 'M2414.5 ' + yB(-98) + 'V2359', 4, 'right-axis-line-b-lower');
let dTop = '', dLeft = '';
for (let u = -320; u <= 360; u += 20) dTop += 'M' + xB(u) + ' 1336V' + (u % 100 === 0 ? 1307 : 1317);
for (let e = 20; e >= -280; e -= 20) dLeft += 'M233 ' + yB(e) + 'H' + (e % 100 === 0 ? 204 : 213);
addPath(axesB, dTop, 5, 'top-ticks-b');
addPath(axesB, dLeft, 7, 'left-ticks-b');
xTickLabels.forEach(v => tickText(axesB, xB(v) - 2, 1288, 54, 'middle', v, 'x-tick-label-b'));
yTickLabels.forEach(v => tickText(axesB, 195, yB(v) + 19, 52, 'end', v, 'y-tick-label-b'));

// legend swatches
const sw1 = document.getElementById('swatch1');
let h1 = '';
for (let c = 2300; c < 2620; c += 30) h1 += 'M' + c + ' 1455L' + (c + 100) + ' 1548';
make('path', sw1, {d: h1, stroke: '#00ffff', 'stroke-width': 3, fill: 'none'});
make('path', sw1, {d: 'M2546 1508L2582 1460M2520 1546L2528 1532', stroke: '#00ffff', 'stroke-width': 4.5, fill: 'none'});
const sw2 = document.getElementById('swatch2');
let d2 = '';
for (let r = 0; r < 8; r++) for (let q = 0; q < 14; q++) {
  d2 += 'M' + (2456 + q * 11 + (r % 2) * 5) + ' ' + (1594 + r * 12 + 2.5 * Math.sin(q * 0.8)).toFixed(1) + 'h0';
}
make('path', sw2, {d: d2, stroke: '#c4c4f4', 'stroke-width': 5.5, 'stroke-linecap': 'round', fill: 'none'});
</script>
</body>
</html>
